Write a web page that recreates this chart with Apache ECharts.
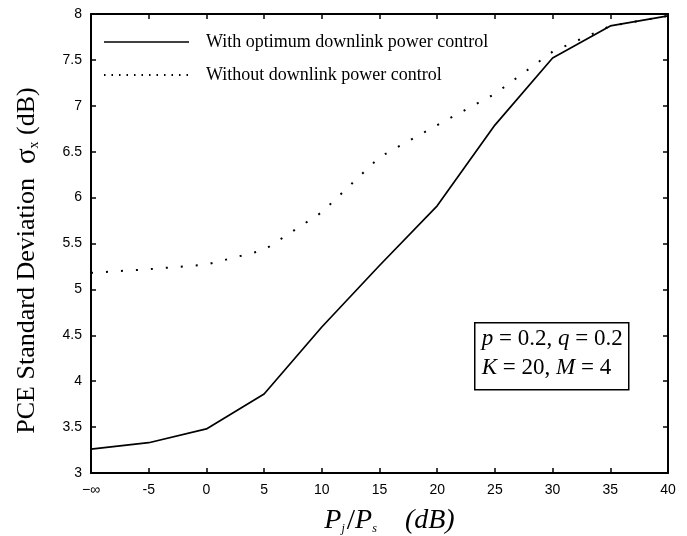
<!DOCTYPE html>
<html>
<head>
<meta charset="utf-8">
<script src="https://cdn.jsdelivr.net/npm/echarts@6/dist/echarts.min.js"></script>
<style>
html,body{margin:0;padding:0;background:#fff;}
#chart{width:687px;height:536px;}
</style>
</head>
<body>
<div id="chart"></div>
<script>
var categories = ['−∞', '-5', '0', '5', '10', '15', '20', '25', '30', '35', '40'];
var withControl = [3.26, 3.33, 3.48, 3.86, 4.59, 5.26, 5.91, 6.79, 7.52, 7.87, 7.98];
var withoutControl = [5.18, 5.22, 5.27, 5.43, 5.84, 6.44, 6.79, 7.13, 7.59, 7.87, 7.98];
var seriesNames = ['With optimum downlink power control', 'Without downlink power control'];

var serif = '"Liberation Serif", "Times New Roman", serif';
var sans = '"Liberation Sans", Arial, sans-serif';

var chart = echarts.init(document.getElementById('chart'));
var tickStyle = {show: true, inside: true, length: 5, lineStyle: {color: '#000', width: 1.5}};
chart.setOption({
  animation: false,
  backgroundColor: '#fff',
  grid: {left: 91, right: 19, top: 14, bottom: 63, containLabel: false, outerBoundsMode: 'none'},
  legend: {
    orient: 'vertical',
    left: 98,
    top: 28,
    itemWidth: 85,
    itemHeight: 14,
    itemGap: 15,
    textStyle: {fontFamily: serif, fontSize: 18, color: '#000', padding: [0, 0, 0, 12]},
    data: [
      {name: seriesNames[0], itemStyle: {opacity: 0}, lineStyle: {type: 'solid', width: 1.5, color: '#000'}},
      {name: seriesNames[1], itemStyle: {opacity: 0}, lineStyle: {type: [1.5, 6], width: 2, color: '#000'}}
    ]
  },
  xAxis: [{
    type: 'category',
    data: categories,
    boundaryGap: false,
    position: 'bottom',
    axisLine: {lineStyle: {color: '#000', width: 2}},
    axisTick: tickStyle,
    axisLabel: {color: '#000', fontFamily: sans, fontSize: 14, margin: 10, interval: 0},
    splitLine: {show: false},
    name: '{i|P}{sub|j}{sl|/}{i|P}{sub|s}{gap| }{i|(dB)}',
    nameLocation: 'middle',
    nameGap: 33,
    nameTextStyle: {
      padding: [0, 0, 0, 20],
      rich: {
        i: {fontFamily: serif, fontStyle: 'italic', fontSize: 28, color: '#000'},
        sl: {fontFamily: serif, fontSize: 30, color: '#000'},
        sub: {fontFamily: serif, fontStyle: 'italic', fontSize: 12, color: '#000', padding: [16, 2, 0, 0]},
        gap: {width: 26}
      }
    }
  }, {
    type: 'category',
    data: categories,
    boundaryGap: false,
    position: 'top',
    axisLine: {lineStyle: {color: '#000', width: 2}},
    axisTick: tickStyle,
    axisLabel: {show: false}
  }],
  yAxis: [{
    type: 'value',
    min: 3, max: 8, interval: 0.5,
    position: 'left',
    axisLine: {show: true, lineStyle: {color: '#000', width: 2}},
    axisTick: tickStyle,
    axisLabel: {color: '#000', fontFamily: sans, fontSize: 14, margin: 9},
    splitLine: {show: false},
    name: '{t|PCE Standard Deviation}{g| }{s|σ}{sub|x}{t| (dB)}',
    nameLocation: 'middle',
    nameGap: 49,
    nameRotate: 90,
    nameTextStyle: {
      padding: [0, 34, 0, 0],
      rich: {
        t: {fontFamily: serif, fontSize: 26, color: '#000'},
        s: {fontFamily: serif, fontSize: 29, color: '#000'},
        sub: {fontFamily: serif, fontSize: 14, color: '#000', padding: [14, 0, 0, 0]},
        g: {width: 14}
      }
    }
  }, {
    type: 'value',
    min: 3, max: 8, interval: 0.5,
    position: 'right',
    axisLine: {show: true, lineStyle: {color: '#000', width: 2}},
    axisTick: tickStyle,
    axisLabel: {show: false},
    splitLine: {show: false}
  }],
  series: [{
    name: seriesNames[0],
    type: 'line',
    data: withControl,
    symbol: 'none',
    lineStyle: {color: '#000', width: 1.7, type: 'solid'},
    itemStyle: {color: '#000'},
    z: 3
  }, {
    name: seriesNames[1],
    type: 'line',
    data: withoutControl,
    symbol: 'none',
    lineStyle: {color: '#000', width: 2, type: [2, 13]},
    itemStyle: {color: '#000'},
    z: 2
  }],
  graphic: [{
    type: 'group',
    left: 474,
    top: 322,
    children: [{
      type: 'rect',
      shape: {x: 0, y: 0, width: 154, height: 67},
      style: {fill: '#fff', stroke: '#000', lineWidth: 1.5}
    }, {
      type: 'text',
      left: 7, top: 5,
      style: {
        text: '{i|p}{n| = 0.2, }{i|q}{n| = 0.2}\n{i|K}{n| = 20, }{i|M}{n| = 4}',
        rich: {
          i: {fontFamily: serif, fontStyle: 'italic', fontSize: 23, color: '#000', lineHeight: 29},
          n: {fontFamily: serif, fontSize: 23, color: '#000', lineHeight: 29}
        }
      }
    }]
  }]
});
</script>
</body>
</html>
